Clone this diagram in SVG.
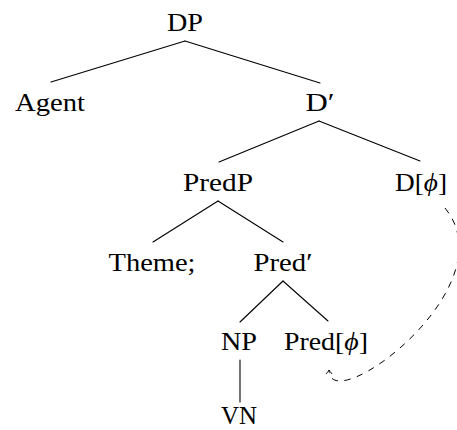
<svg xmlns="http://www.w3.org/2000/svg" width="457" height="430" viewBox="0 0 457 430">
  <style>
    .lbl { font-family: "Liberation Serif", "DejaVu Serif", serif; font-size: 26px; fill: #000; text-anchor: middle; }
    .it { font-style: italic; }
    .edge { stroke: #000; stroke-width: 1.1; fill: none; stroke-linecap: round; }
    .move { stroke: #000; stroke-width: 1; fill: none; stroke-dasharray: 6.5 6.5; }
  </style>
  <defs>
    <marker id="tip" viewBox="-6 -5 8 10" markerWidth="8" markerHeight="10" refX="0" refY="0" orient="auto" markerUnits="userSpaceOnUse">
      <path d="M-4,-3 Q-1,-0.6 0,0 Q-1,0.6 -4,3" fill="none" stroke="#000" stroke-width="0.9"/>
    </marker>
  </defs>
  <rect width="457" height="430" fill="#fff"/>

  <!-- tree branches -->
  <g id="connectors">
    <line class="edge" x1="185" y1="41" x2="51" y2="82"/>
    <line class="edge" x1="185" y1="41" x2="320" y2="83"/>
    <line class="edge" x1="319" y1="121" x2="219" y2="162"/>
    <line class="edge" x1="319" y1="121" x2="420" y2="161"/>
    <line class="edge" x1="218" y1="201" x2="153" y2="242"/>
    <line class="edge" x1="218" y1="201" x2="283" y2="242"/>
    <line class="edge" x1="283" y1="281" x2="240" y2="322"/>
    <line class="edge" x1="283" y1="281" x2="328" y2="321"/>
    <line class="edge" x1="240" y1="360" x2="240" y2="402"/>
    <!-- feature movement from D to Pred -->
    <path class="move" d="M445,208 C510,287 329,420 329,370" marker-end="url(#tip)"/>
  </g>

  <g id="n-dp"><text class="lbl" x="185" y="31" textLength="36" lengthAdjust="spacingAndGlyphs">DP</text></g>
  <g id="n-agent"><text class="lbl" x="50" y="111" textLength="70" lengthAdjust="spacingAndGlyphs">Agent</text></g>
  <g id="n-dbar"><text class="lbl" x="320" y="111" textLength="29" lengthAdjust="spacingAndGlyphs">D′</text></g>
  <g id="n-predp"><text class="lbl" x="218" y="191" textLength="70" lengthAdjust="spacingAndGlyphs">PredP</text></g>
  <g id="n-dphi"><text class="lbl" x="421" y="191" textLength="52" lengthAdjust="spacingAndGlyphs">D[<tspan class="it">ϕ</tspan>]</text></g>
  <g id="n-theme"><text class="lbl" x="152" y="271" textLength="87" lengthAdjust="spacingAndGlyphs">Theme;</text></g>
  <g id="n-predbar"><text class="lbl" x="283" y="271" textLength="59" lengthAdjust="spacingAndGlyphs">Pred′</text></g>
  <g id="n-np"><text class="lbl" x="239" y="350" textLength="36" lengthAdjust="spacingAndGlyphs">NP</text></g>
  <g id="n-predphi"><text class="lbl" x="326" y="350" textLength="84" lengthAdjust="spacingAndGlyphs">Pred[<tspan class="it">ϕ</tspan>]</text></g>
  <g id="n-vn"><text class="lbl" x="239" y="424" textLength="36" lengthAdjust="spacingAndGlyphs">VN</text></g>
</svg>
